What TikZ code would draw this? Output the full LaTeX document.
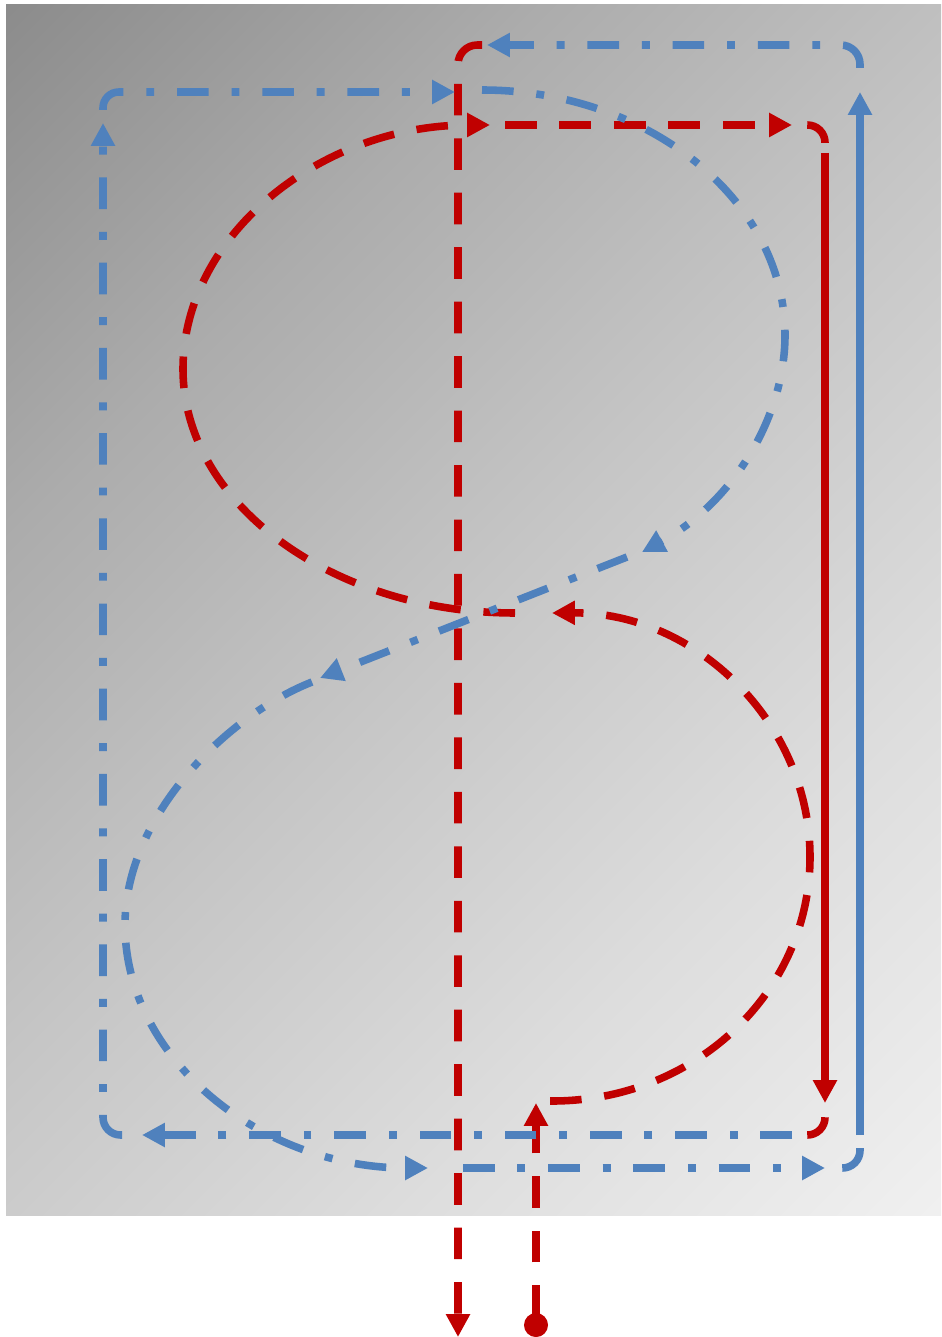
\documentclass[tikz,border=0pt]{standalone}
\usepackage{tikz}
\usetikzlibrary{arrows.meta}
\definecolor{flowred}{HTML}{C00000}
\definecolor{flowblue}{HTML}{4F81BD}
\definecolor{bgdark}{HTML}{8C8C8C}
\definecolor{bgmiddark}{HTML}{ACACAC}
\definecolor{bgmid}{HTML}{C6C6C6}
\definecolor{bgmidlight}{HTML}{DDDDDD}
\definecolor{bglight}{HTML}{F0F0F0}
\pgfdeclareverticalshading{bgdiag}{100bp}{color(0bp)=(bglight); color(14.64bp)=(bglight); color(32.32bp)=(bgmidlight); color(50bp)=(bgmid); color(67.68bp)=(bgmiddark); color(85.36bp)=(bgdark); color(100bp)=(bgdark)}

\begin{document}
\begin{tikzpicture}[x=0.02cm,y=-0.02cm,line width=4.3pt]
  \tikzstyle{arr}=[-{Triangle[length=13pt,width=13pt]}]
  \tikzstyle{rd}=[flowred,dash pattern=on 18pt off 13pt]
  \tikzstyle{rs}=[flowred]
  \tikzstyle{bd}=[flowblue,dash pattern=on 18pt off 13pt on 4.5pt off 13pt]
  \tikzstyle{bs}=[flowblue]
  \useasboundingbox (0,0) rectangle (941,1337);
  \shade[shading=bgdiag,shading angle=45] (6,5) rectangle (941,1215);
  % end points of the runs
  \coordinate (src) at (536,1337);
  \coordinate (srcend) at (536,1103);
  \coordinate (sink) at (458,1337);
  \coordinate (midtop) at (482,45);
  \coordinate (lowtop) at (552,613);
  \coordinate (uptop) at (490,125);
  \coordinate (rtop) at (792,125);
  \coordinate (rbot) at (825,1103);
  \coordinate (bleft) at (142,1135);
  \coordinate (bup) at (103,123);
  \coordinate (bright) at (455,92);
  \coordinate (bturn) at (642,552);
  \coordinate (bcross) at (320,678);
  \coordinate (bbot) at (428,1168);
  \coordinate (bout) at (825,1168);
  \coordinate (btop) at (860,92);
  \coordinate (bback) at (487,45);
  % red run
  \draw[rd,{Circle[length=13.6pt]}-{Triangle[length=13pt,width=13pt]}] (src) -- (srcend);
  \draw[rd,arr] (550,1101) .. controls (695,1102) and (810,992) .. (810,857)
    .. controls (810,722) and (695,612) .. (lowtop);
  \draw[rd,arr] (515,613) .. controls (332,613) and (183,503) .. (183,369)
    .. controls (183,235) and (321,125) .. (uptop);
  \draw[rd,arr] (505,125) -- (rtop);
  \draw[rs,rounded corners=10pt] (808,125) -| (825,143);
  \draw[rs,arr] (825,153) -- (rbot);
  \draw[rs,rounded corners=10pt] (825,1118) |- (808,1135);
  \draw[rd,arr,rounded corners=11pt] (midtop) -| (sink);
  % blue run
  \draw[bd,arr] (792,1135) -- (bleft);
  \draw[bd,arr,rounded corners=10pt] (122,1135) -| (bup);
  \draw[bd,arr,rounded corners=9pt] (103,110) |- (bright);
  \draw[bd,arr] (482,90) .. controls (648,90) and (785,200) .. (785,335)
    .. controls (785,418) and (732,503) .. (bturn);
  \draw[bd,arr] (627,557) -- (bcross);
  \draw[bd,arr] (312,682) .. controls (228,715) and (125,815) .. (125,925)
    .. controls (125,1059) and (261,1168) .. (bbot);
  \draw[bd,arr] (463,1168) -- (bout);
  \draw[bd,rounded corners=10pt] (843,1168) -| (860,1148);
  \draw[bs,arr] (860,1135) -- (btop);
  \draw[bd,arr,rounded corners=11pt] (860,68) |- (bback);
\end{tikzpicture}
\end{document}
